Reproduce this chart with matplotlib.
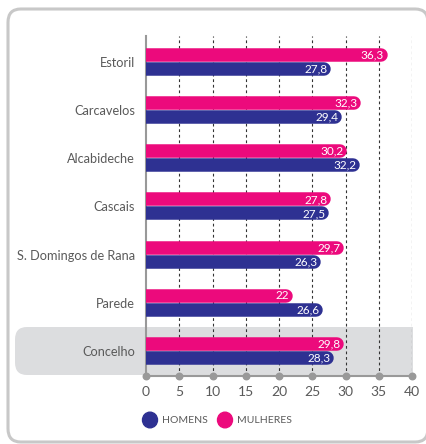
import numpy as np
import matplotlib.pyplot as plt
from matplotlib.patches import FancyBboxPatch, Rectangle

# data
categories = ["Estoril", "Carcavelos", "Alcabideche", "Cascais",
              "S. Domingos de Rana", "Parede", "Concelho"]
homens = [27.8, 29.4, 32.2, 27.5, 26.3, 26.6, 28.3]
mulheres = [36.3, 32.3, 30.2, 27.8, 29.7, 22.0, 29.8]
xticks = [0, 5, 10, 15, 20, 25, 30, 35, 40]

pink = "#ec0a7c"
blue = "#2e3192"
txt = "#5a5a5a"

plt.rcParams['font.family'] = ['Lato', 'DejaVu Sans']

W, H = 426, 444
fig = plt.figure(figsize=(W / 100, H / 100), dpi=100)

def fx(px):
    return px / W

def fy(py):
    return 1 - py / H

# outer frame
frame = FancyBboxPatch((fx(8), fy(442)), fx(428) - fx(8), fy(9) - fy(442),
                       boxstyle="round,pad=0,rounding_size=0.03",
                       transform=fig.transFigure, facecolor="white",
                       edgecolor="#c8c8c8", linewidth=2.2, zorder=0)
fig.patches.append(frame)

# highlight band for Concelho
band_l = FancyBboxPatch((fx(15), fy(375)), fx(80) - fx(15), fy(327) - fy(375),
                        boxstyle="round,pad=0,rounding_size=0.028",
                        transform=fig.transFigure, facecolor="#dcdddf",
                        edgecolor="none", zorder=0.5)
band_r = Rectangle((fx(50), fy(375)), fx(412.5) - fx(50), fy(327) - fy(375),
                   transform=fig.transFigure, facecolor="#dcdddf",
                   edgecolor="none", zorder=0.5)
fig.patches.append(band_l)
fig.patches.append(band_r)

ax = fig.add_axes([fx(146), fy(376), fx(412) - fx(146), fy(36) - fy(376)])
ax.patch.set_alpha(0)
ax.set_zorder(2)

y = np.arange(len(categories))
ax.set_xlim(0, 40)
ax.set_ylim(6.52, -0.54)

# bar geometry
px_per_unit = (412 - 146) / 40
bar_px = 13.5
r = bar_px / 2 / px_per_unit
lw = bar_px * 72 / 100
off = 0.145

for i in range(len(categories)):
    for val, dy, col in [(mulheres[i], -off, pink), (homens[i], off, blue)]:
        ax.plot([-1, val - r], [y[i] + dy, y[i] + dy], color=col, lw=lw,
                solid_capstyle="round", zorder=3)
        lab = ("%.1f" % val).replace(".", ",")
        if val == int(val):
            lab = "%d" % val
        ax.text(val - 0.5, y[i] + dy, lab, color="white", fontsize=8.5,
                ha="right", va="center", zorder=4)

# grid
for t in xticks[1:]:
    ax.axvline(t, color="#333333", lw=0.8, ls=(0, (2.5, 2.5)), zorder=1)

ax.set_yticks(y)
ax.set_yticklabels(categories, fontsize=9.2, color=txt)
ax.set_xticks(xticks)
ax.set_xticklabels([str(t) for t in xticks], fontsize=10, color=txt)
ax.tick_params(axis="y", length=0, pad=8)
ax.tick_params(axis="x", length=0, pad=7)

for s in ["top", "right"]:
    ax.spines[s].set_visible(False)
for s in ["left", "bottom"]:
    ax.spines[s].set_color("#999999")
    ax.spines[s].set_linewidth(1.5)

# dots on axis at ticks
ax.scatter(xticks, [6.52] * len(xticks), s=22, color="#999999",
           clip_on=False, zorder=5)

# legend
for cx, col, name in [(150, blue, "HOMENS"), (225, pink, "MULHERES")]:
    fig.patches.append(plt.Circle((fx(cx), fy(420)), 7.5 / W,
                                  transform=fig.transFigure, color=col))
    fig.text(fx(cx + 12), fy(420), name, fontsize=7.5, color=txt,
             ha="left", va="center")

fig.savefig("out.png", dpi=100)
